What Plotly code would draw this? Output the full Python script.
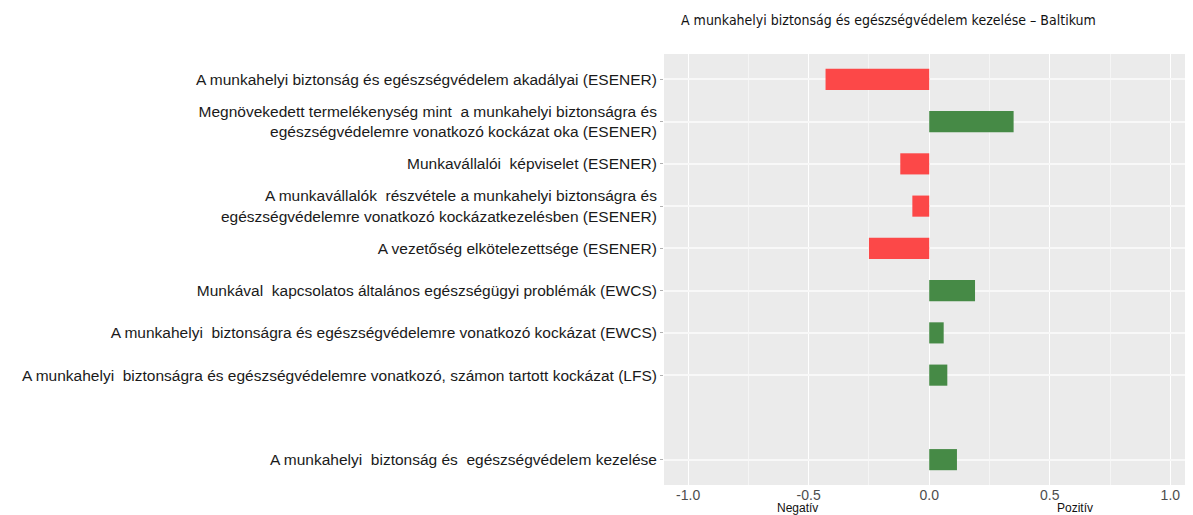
import plotly.graph_objects as go

categories = [
    "A munkahelyi biztonság és egészségvédelem akadályai (ESENER)",
    "Megnövekedett termelékenység mint  a munkahelyi biztonságra és<br>egészségvédelemre vonatkozó kockázat oka (ESENER)",
    "Munkavállalói  képviselet (ESENER)",
    "A munkavállalók  részvétele a munkahelyi biztonságra és<br>egészségvédelemre vonatkozó kockázatkezelésben (ESENER)",
    "A vezetőség elkötelezettsége (ESENER)",
    "Munkával  kapcsolatos általános egészségügyi problémák (EWCS)",
    "A munkahelyi  biztonságra és egészségvédelemre vonatkozó kockázat (EWCS)",
    "A munkahelyi  biztonságra és egészségvédelemre vonatkozó, számon tartott kockázat (LFS)",
    " ",
    "A munkahelyi  biztonság és  egészségvédelem kezelése",
]
values = [-0.43, 0.35, -0.12, -0.07, -0.25, 0.19, 0.06, 0.075, None, 0.115]
x_tickvals = [-1.0, -0.5, 0.0, 0.5, 1.0]
x_ticktext = ["-1.0", "-0.5", "0.0", "0.5", "1.0"]
x_minor = [-0.75, -0.25, 0.25, 0.75]
title_text = "A munkahelyi biztonság és egészségvédelem kezelése – Baltikum"
neg_label = "Negatív"
pos_label = "Pozitív"

RED = "#FC4848"
GREEN = "#468A46"
colors = [RED if (v is not None and v < 0) else GREEN for v in values]
y_ticks = [c for c in categories if c.strip()]

# the page body has an 8px default margin; the figure is sized to fit the window
OFF = 8
W, H = 1193 - OFF, 515 - OFF
ML, MR, MT, MB = 664 - OFF, 0, 54 - OFF, 30
plot_h = H - MT - MB

fig = go.Figure(go.Bar(
    x=values, y=categories, orientation="h",
    marker=dict(color=colors, line=dict(width=0)),
    width=0.5,
))

fig.update_layout(
    width=W, height=H,
    margin=dict(l=ML, r=MR, t=MT, b=MB, autoexpand=False),
    paper_bgcolor="white", plot_bgcolor="#EBEBEB",
    showlegend=False,
    font=dict(family="Liberation Sans, Arial, sans-serif", size=15.5, color="#1A1A1A"),
    annotations=[
        dict(text=title_text, xref="paper", x=(888 - 664) / (W - ML - MR),
             yref="paper", y=1 + (MT - (20 - OFF)) / plot_h, yanchor="middle", xanchor="center",
             showarrow=False,
             font=dict(size=14, family="DejaVu Sans Condensed, Liberation Sans Narrow, sans-serif", color="#111")),
        dict(text=neg_label, x=-0.545, xref="x", yref="paper", y=-((508 - OFF) - (H - MB)) / plot_h,
             yanchor="middle", showarrow=False, font=dict(size=12, color="#111")),
        dict(text=pos_label, x=0.605, xref="x", yref="paper", y=-((508 - OFF) - (H - MB)) / plot_h,
             yanchor="middle", showarrow=False, font=dict(size=12, color="#111")),
    ],
)

fig.update_xaxes(
    range=[-1.1, 1.094], tickvals=x_tickvals, ticktext=x_ticktext,
    showgrid=True, gridcolor="white", gridwidth=1.2,
    minor=dict(tickvals=x_minor, showgrid=True, gridcolor="#F5F5F5", gridwidth=1),
    zeroline=False, ticks="", tickfont=dict(size=14, color="#4D4D4D"),
    automargin=False,
)
fig.update_yaxes(
    categoryorder="array", categoryarray=categories, autorange=False, range=[9.6, -0.6],
    tickmode="array", tickvals=y_ticks, ticktext=y_ticks,
    showgrid=True, gridcolor="#F8F8F8", gridwidth=1.5,
    ticks="outside", ticklen=3, tickcolor="#B0B0B0", tickwidth=1,
    zeroline=False, tickfont=dict(size=15.5, color="#1A1A1A"),
    automargin=False,
)

fig.write_html("out.html")
